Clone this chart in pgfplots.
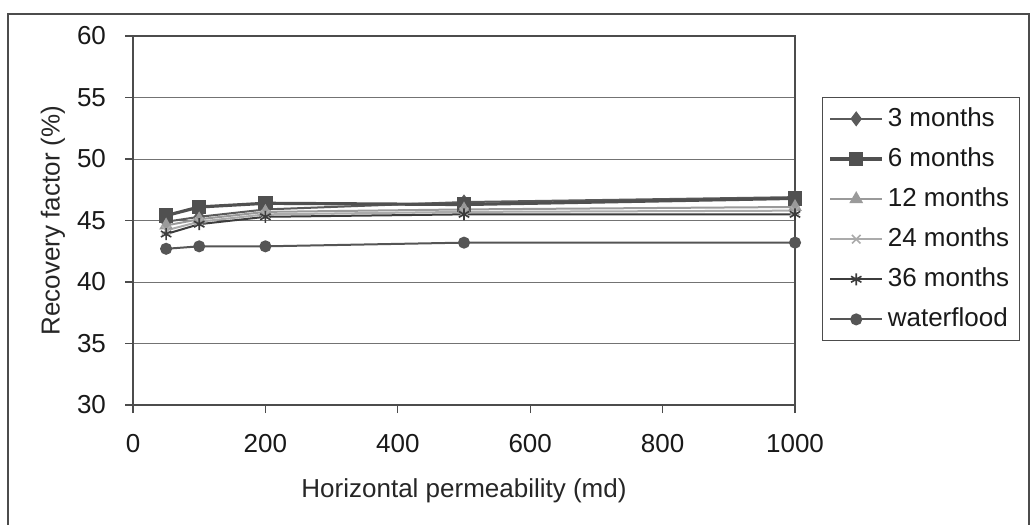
\documentclass[border=0pt]{standalone}
\usepackage{pgfplots}
\pgfplotsset{compat=1.18}
\usepackage{fontspec}
\setmainfont{Liberation Sans}
\definecolor{cA}{HTML}{5A5A5A}
\definecolor{cB}{HTML}{505050}
\definecolor{cC}{HTML}{9A9A9A}
\definecolor{cD}{HTML}{ABABAB}
\definecolor{cE}{HTML}{3C3C3C}
\definecolor{cF}{HTML}{555555}
\begin{document}
\fontsize{13bp}{15.5bp}\selectfont
\begin{tikzpicture}[x=1bp,y=1bp]
\useasboundingbox (0,0) rectangle (516,262);
\fill[white] (0,0) rectangle (516,262);
\draw[black!70, line width=0.6bp] (4,-3) rectangle (514.5,255);
\begin{axis}[
  at={(66.5bp,59.5bp)}, anchor=south west,
  scale only axis, width=331bp, height=184.5bp,
  xmin=0, xmax=1000, ymin=30, ymax=60,
  xtick={0,200,400,600,800,1000},
  ytick={30,35,40,45,50,55,60},
  ymajorgrids, grid style={black!55, line width=0.5bp},
  axis line style={black!70, line width=0.6bp},
  x axis line style={black!80},
  tick align=outside, tick style={black!70, line width=0.6bp},
  major tick length=4bp,
  xtick pos=bottom, ytick pos=left,
  /pgf/number format/assume math mode=true,
  /pgf/number format/1000 sep={},
  tick label style={font=\fontsize{13bp}{15.5bp}\selectfont, text=black!90},
  xticklabel style={yshift=-6bp},
  yticklabel style={xshift=-5bp},
  xlabel={Horizontal permeability (md)},
  ylabel={Recovery factor (\%)},
  label style={font=\fontsize{13bp}{15.5bp}\selectfont, text=black!85},
  xlabel style={at={(axis description cs:0.5,0)}, anchor=center, yshift=-43bp},
  ylabel style={at={(axis description cs:0,0.5)}, anchor=center, yshift=40bp},
  legend style={at={(axis description cs:1.0408,0.835)}, anchor=north west,
    draw=black!70, line width=0.6bp, fill=white,
    font=\fontsize{13bp}{15.5bp}\selectfont, text=black!90,
    row sep=4.7bp, inner xsep=3bp, inner ysep=3bp},
  legend cell align=left,
  legend image code/.code={\draw[mark repeat=2,mark phase=2] plot coordinates {(0bp,0bp) (13bp,0bp) (26bp,0bp)};},
  every axis plot/.append style={line width=1bp},
]
\addplot[color=cA, mark=diamond*, mark size=3bp] coordinates {(50,44.9) (100,45.3) (200,45.9) (500,46.5) (1000,46.9)};
\addlegendentry{3 months}
\addplot[color=cB, line width=1.6bp, mark=square*, mark size=2.8bp] coordinates {(50,45.4) (100,46.1) (200,46.4) (500,46.3) (1000,46.8)};
\addlegendentry{6 months}
\addplot[color=cC, mark=triangle*, mark size=3bp] coordinates {(50,44.6) (100,45.1) (200,45.7) (500,45.9) (1000,46.1)};
\addlegendentry{12 months}
\addplot[color=cD, mark=x, mark size=3bp, mark options={line width=0.8bp}] coordinates {(50,44.2) (100,44.9) (200,45.5) (500,45.7) (1000,45.8)};
\addlegendentry{24 months}
\addplot[color=cE, mark=asterisk, mark size=3bp, mark options={line width=0.8bp}] coordinates {(50,43.9) (100,44.7) (200,45.3) (500,45.5) (1000,45.5)};
\addlegendentry{36 months}
\addplot[color=cF, mark=*, mark size=2.5bp] coordinates {(50,42.7) (100,42.9) (200,42.9) (500,43.2) (1000,43.2)};
\addlegendentry{waterflood}
\end{axis}
\end{tikzpicture}
\end{document}
